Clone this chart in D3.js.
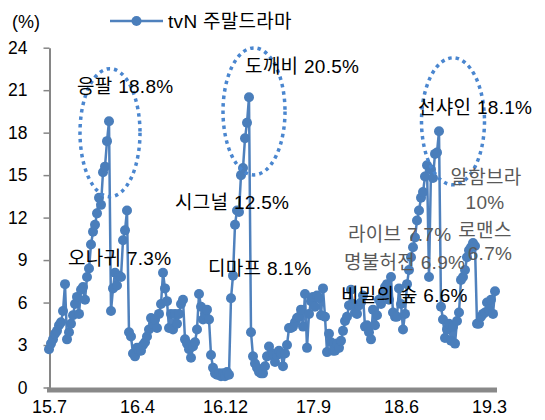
<!DOCTYPE html>
<html><head><meta charset="utf-8">
<script src="https://cdn.jsdelivr.net/npm/d3@7"></script>
<style>
body{margin:0;background:#fff}
svg{display:block}
text{font-family:"Liberation Sans","Noto Sans CJK KR",sans-serif}
</style>
</head><body>
<svg id="chart" width="545" height="420"></svg>
<script>
// ---------- data ----------
const seriesName = "tvN 주말드라마";
const unitLabel = "(%)";
const ratings = [
  2.7,3.1,3.4,3.8,4.0,4.4,4.6,5.4,7.3,3.4,
  3.9,4.5,5.1,5.9,6.4,5.2,6.9,7.1,6.2,7.8,
  8.4,10.1,11.0,11.5,12.3,13.4,12.9,15.2,15.6,17.4,
  18.8,5.4,7.0,8.1,7.2,7.9,7.8,10.4,11.1,12.5,
  3.9,3.6,2.4,2.2,2.8,2.6,2.6,3.0,3.2,3.6,
  4.1,4.9,4.5,4.8,4.2,5.2,5.9,8.1,7.0,6.1,
  4.2,5.2,4.1,5.2,4.5,5.2,5.9,6.2,3.4,3.1,
  2.7,2.1,2.9,3.2,4.1,6.6,5.7,4.8,5.2,5.5,
  4.8,2.3,1.4,1.0,0.9,1.0,0.8,1.0,0.8,1.1,
  0.9,6.3,7.9,11.5,12.5,12.4,15.0,15.5,17.6,18.7,
  20.5,3.9,2.2,1.7,1.4,1.1,1.0,1.0,1.5,2.2,
  2.9,2.3,2.4,1.8,2.3,2.6,2.4,1.5,2.4,3.0,
  4.2,4.2,4.3,4.6,4.9,5.0,5.5,4.3,6.6,2.8,
  5.2,6.1,6.4,5.7,6.5,6.3,5.1,7.0,5.0,2.5,
  3.8,3.2,2.6,2.6,3.1,2.8,3.3,4.0,4.7,5.0,
  5.8,6.9,5.9,5.3,5.2,5.8,6.0,6.5,4.3,4.4,
  3.9,3.4,5.5,4.4,5.1,6.2,5.9,6.6,7.1,7.3,
  6.2,7.8,5.3,5.0,5.0,7.0,5.9,4.1,5.2,7.3,
  8.3,9.2,9.9,10.6,11.8,12.5,13.4,13.8,14.9,15.7,
  7.8,15.4,14.8,16.5,16.6,18.1,5.7,4.8,3.5,4.1,
  4.5,3.3,4.3,3.1,4.7,5.3,7.6,7.8,8.3,9.2,
  9.7,9.9,10.2,10.0,4.5,4.5,5.0,5.2,5.3,6.0,
  5.5,6.2,5.2,6.8
];
const xTickIndex  = [0, 44, 88, 132, 176, 220];
const xTickLabels = ["15.7","16.4","16.12","17.9","18.6","19.3"];
const yTicks = [0,3,6,9,12,15,18,21,24];

// annotation texts (layout kept separately below)
const annotationTexts = [
  "응팔 18.8%","도깨비 20.5%","시그널 12.5%","오나귀 7.3%","디마프 8.1%",
  "라이브 7.7%","명불허전 6.9%","비밀의 숲 6.6%","선샤인 18.1%",
  "알함브라","10%","로맨스","6.7%"
];

// ---------- layout ----------
const annotationLayout = [
  {x:77,  y:86,  anchor:"start",  color:"#000"},
  {x:245, y:66,  anchor:"start",  color:"#000"},
  {x:175, y:202, anchor:"start",  color:"#000"},
  {x:68,  y:258, anchor:"start",  color:"#000"},
  {x:208, y:268, anchor:"start",  color:"#000"},
  {x:348, y:234, anchor:"start",  color:"#595959"},
  {x:344, y:262, anchor:"start",  color:"#595959"},
  {x:341, y:295, anchor:"start",  color:"#000"},
  {x:418, y:107, anchor:"start",  color:"#000"},
  {x:486, y:177, anchor:"middle", color:"#595959"},
  {x:485, y:202, anchor:"middle", color:"#595959"},
  {x:485, y:230, anchor:"middle", color:"#595959"},
  {x:490, y:253, anchor:"middle", color:"#595959"}
];
// ellipse centres in data units (index, value), radii in px
const ellipses = [
  {i:30.5,  v:18.0, rx:30, ry:64},
  {i:102.5, v:19.5, rx:31, ry:63.5},
  {i:202,   v:18.8, rx:31.5, ry:63.5}
];

const blue = "#4f81bd";
const markerBlue = "#4a7ebb";
const svg = d3.select("#chart");

const x = d3.scaleLinear().domain([0, 224]).range([49, 497]);
const y = d3.scaleLinear().domain([0, 24]).range([387.5, 47.7]);

// y axis
svg.append("g")
  .attr("transform","translate(49.5,0)")
  .call(d3.axisLeft(y).tickValues(yTicks).tickSize(6).tickPadding(16).tickSizeOuter(0))
  .call(g=>{
    g.select(".domain").attr("stroke","#868686").attr("stroke-width",2);
    g.selectAll(".tick line").attr("stroke","#868686").attr("stroke-width",1.5);
    g.selectAll(".tick text").attr("fill","#000").attr("font-size",17.5)
      .attr("font-family",'"Liberation Sans",sans-serif');
  });

// x axis
svg.append("g")
  .attr("transform","translate(0,390)")
  .call(d3.axisBottom(x).tickValues(xTickIndex).tickFormat((d,i)=>xTickLabels[i]).tickSize(0).tickSizeOuter(0))
  .call(g=>{
    g.select(".domain").attr("d","M47,0H497").attr("stroke","#898989").attr("stroke-width",5);
    g.selectAll(".tick text").attr("fill","#000").attr("font-size",18)
      .attr("font-family",'"Liberation Sans",sans-serif')
      .attr("y",17).attr("dy","0.35em");
  });

// unit label
svg.append("text").attr("x",12).attr("y",22).attr("dy","0.35em")
  .attr("font-size",18).attr("fill","#000").text(unitLabel);

// series line
const line = d3.line().x((d,i)=>x(i)).y(d=>y(d));
svg.append("path").datum(ratings)
  .attr("d",line).attr("fill","none")
  .attr("stroke",blue).attr("stroke-width",2.5).attr("stroke-linejoin","round");

svg.append("g").selectAll("circle").data(ratings).join("circle")
  .attr("cx",(d,i)=>x(i)).attr("cy",d=>y(d)).attr("r",5)
  .attr("fill",markerBlue);

// dotted ellipses
svg.append("g").selectAll("ellipse").data(ellipses).join("ellipse")
  .attr("cx",d=>x(d.i)).attr("cy",d=>y(d.v))
  .attr("rx",d=>d.rx).attr("ry",d=>d.ry)
  .attr("fill","none").attr("stroke","#4a86cf")
  .attr("stroke-width",3.5).attr("stroke-dasharray","3.5,4");

// annotations
svg.append("g").selectAll("text").data(annotationTexts).join("text")
  .attr("x",(d,i)=>annotationLayout[i].x)
  .attr("y",(d,i)=>annotationLayout[i].y)
  .attr("dy","0.35em")
  .attr("text-anchor",(d,i)=>annotationLayout[i].anchor)
  .attr("fill",(d,i)=>annotationLayout[i].color)
  .attr("font-size",19)
  .attr("letter-spacing",0.3)
  .text(d=>d);

// legend
const lg = svg.append("g");
lg.append("line").attr("x1",110).attr("x2",163).attr("y1",21).attr("y2",21)
  .attr("stroke",blue).attr("stroke-width",2.5);
lg.append("circle").attr("cx",136.5).attr("cy",21).attr("r",5).attr("fill",markerBlue);
lg.append("text").attr("x",168).attr("y",21).attr("dy","0.35em")
  .attr("font-size",19).attr("letter-spacing",0.3).attr("fill","#000").text(seriesName);
</script>
</body></html>
